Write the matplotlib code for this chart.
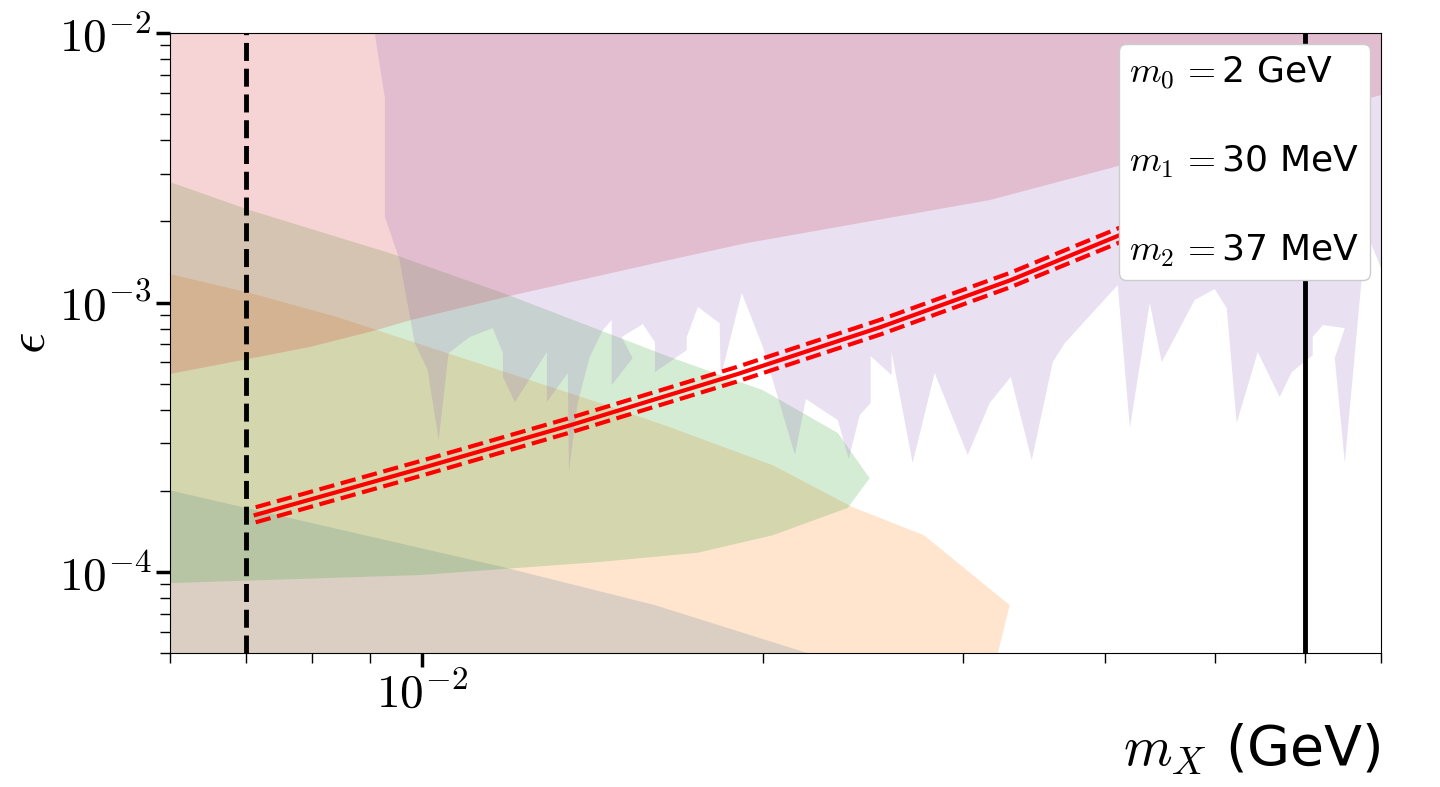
import numpy as np
import matplotlib
matplotlib.use('Agg')
import matplotlib.pyplot as plt
from matplotlib.lines import Line2D
from matplotlib.ticker import FuncFormatter, NullFormatter

plt.rcParams['mathtext.fontset'] = 'cm'

# excluded regions (polygons in m_X [GeV], epsilon)
blue_x = [0.0055, 0.006, 0.01179, 0.01605, 0.02189, 0.0235, 0.0235, 0.0055]
blue_y = [2.1e-4, 2.01e-4, 1.044e-4, 7.54e-5, 5.0e-5, 4.3e-5, 3.0e-5, 3.0e-5]

orange_x = [0.0055, 0.006, 0.00706, 0.00842, 0.01435, 0.01654, 0.02039, 0.02398,
            0.0277, 0.03296, 0.03218, 0.0320, 0.0055]
orange_y = [1.33e-3, 1.276e-3, 1.085e-3, 8.84e-4, 4.24e-4, 3.45e-4, 2.49e-4, 1.74e-4,
            1.37e-4, 7.54e-5, 5.0e-5, 3.0e-5, 3.0e-5]

green_x = [0.0055, 0.006, 0.00706, 0.00937, 0.01179, 0.01435, 0.01654, 0.01998,
           0.02326, 0.02481, 0.02373, 0.02039, 0.01751, 0.01435, 0.009959, 0.006, 0.0055]
green_y = [3.0e-3, 2.80e-3, 2.20e-3, 1.526e-3, 1.085e-3, 7.9e-4, 6.28e-4, 4.73e-4,
           3.28e-4, 2.23e-4, 1.73e-4, 1.37e-4, 1.18e-4, 1.09e-4, 9.75e-5, 9.1e-5, 9.0e-5]

red_x = [0.0055, 0.006, 0.00797, 0.00913, 0.00978, 0.01205, 0.01654, 0.0193,
         0.02512, 0.03165, 0.04198, 0.070, 0.080, 0.080, 0.0055]
red_y = [5.2e-4, 5.43e-4, 6.84e-4, 7.91e-4, 8.61e-4, 1.066e-3, 1.44e-3, 1.66e-3,
         2.02e-3, 2.40e-3, 3.29e-3, 5.89e-3, 6.5e-3, 1.2e-2, 1.2e-2]

purple_x = [0.00905, 0.00909, 0.00928, 0.00928, 0.00956, 0.00986, 0.01012, 0.01035,
            0.01056, 0.01102, 0.01155, 0.01179, 0.01179, 0.01208, 0.01289, 0.01289,
            0.01345, 0.01348, 0.01372, 0.01406, 0.01444, 0.0147, 0.0147, 0.01534,
            0.015, 0.01566, 0.01605, 0.01605, 0.01712, 0.01712, 0.01751, 0.0183,
            0.01834, 0.01914, 0.01998, 0.02132, 0.0218, 0.02326, 0.02378, 0.02432,
            0.02486, 0.02486, 0.02594, 0.02594, 0.02707, 0.02831, 0.03027, 0.03165,
            0.03303, 0.03447, 0.03597, 0.03686, 0.04104, 0.04206, 0.04379, 0.04487,
            0.04797, 0.04996, 0.05119, 0.05224, 0.05452, 0.057, 0.05841, 0.06095,
            0.06095, 0.0622, 0.06505, 0.06374, 0.06505, 0.0673, 0.0684, 0.0713,
            0.080, 0.080]
purple_y = [1.2e-2, 1.0e-2, 5.74e-3, 2.08e-3, 1.44e-3, 7.07e-4, 5.62e-4, 3.09e-4,
            6.49e-4, 7.45e-4, 8.04e-4, 6.49e-4, 5.29e-4, 4.27e-4, 6.55e-4, 4.27e-4,
            5.48e-4, 2.35e-4, 4.24e-4, 6.28e-4, 7.91e-4, 8.61e-4, 4.94e-4, 6.22e-4,
            7.45e-4, 8.32e-4, 7.13e-4, 5.52e-4, 6.66e-4, 7.45e-4, 9.62e-4, 8.39e-4,
            5.29e-4, 1.085e-3, 6.84e-4, 2.72e-4, 4.39e-4, 3.66e-4, 2.63e-4, 3.83e-4,
            4.24e-4, 6.33e-4, 5.38e-4, 6.55e-4, 2.54e-4, 5.48e-4, 2.72e-4, 4.24e-4,
            5.29e-4, 2.60e-4, 6.01e-4, 7.07e-4, 1.161e-3, 3.42e-4, 9.96e-4, 6.01e-4,
            1.022e-3, 1.122e-3, 9.54e-4, 3.57e-4, 6.55e-4, 4.46e-4, 5.52e-4, 6.38e-4,
            7.45e-4, 8.25e-4, 8.04e-4, 6.22e-4, 2.54e-4, 1.212e-3, 1.706e-3, 1.113e-3,
            1.0e-3, 1.2e-2]

# prediction band
mx = [0.00714, 0.0100, 0.01353, 0.01898, 0.02537, 0.0330, 0.04188, 0.0600]
eps_c = [1.63e-4, 2.43e-4, 3.51e-4, 5.43e-4, 8.11e-4, 1.21e-3, 1.83e-3, 3.32e-3]
eps_up = [1.74e-4, 2.59e-4, 3.74e-4, 5.78e-4, 8.64e-4, 1.29e-3, 1.95e-3, 3.54e-3]
eps_lo = [1.53e-4, 2.28e-4, 3.30e-4, 5.10e-4, 7.62e-4, 1.14e-3, 1.72e-3, 3.12e-3]

m_low = 0.007
m_high = 0.06

legend_labels = [r'$m_0\,{=}$2 GeV', r'$m_1\,{=}$30 MeV', r'$m_2\,{=}$37 MeV']

fig, ax = plt.subplots(figsize=(14.4, 7.87), dpi=100)
fig.subplots_adjust(left=0.118, right=0.959, top=0.958, bottom=0.170)

ax.fill(blue_x, blue_y, color='C0', alpha=0.2, lw=0)
ax.fill(orange_x, orange_y, color='C1', alpha=0.2, lw=0)
ax.fill(green_x, green_y, color='C2', alpha=0.2, lw=0)
ax.fill(red_x, red_y, color='C3', alpha=0.2, lw=0)
ax.fill(purple_x, purple_y, color='C4', alpha=0.2, lw=0)

ax.plot(mx, eps_c, color='red', lw=3)
ax.plot(mx, eps_up, color='red', ls='--', lw=3)
ax.plot(mx, eps_lo, color='red', ls='--', lw=3)

ax.axvline(m_low, color='black', ls='--', lw=3.5)
ax.axvline(m_high, color='black', lw=3.5)

ax.set_xscale('log')
ax.set_yscale('log')
ax.set_xlim(0.006, 0.07)
ax.set_ylim(5e-5, 1e-2)

fmt = FuncFormatter(lambda v, p: r'$10^{%d}$' % round(np.log10(v)))
ax.xaxis.set_major_formatter(fmt)
ax.yaxis.set_major_formatter(fmt)
ax.xaxis.set_minor_formatter(NullFormatter())
ax.yaxis.set_minor_formatter(NullFormatter())
ax.tick_params(which='major', length=10, width=2.5, labelsize=34)
ax.tick_params(which='minor', length=7, width=1)

ax.set_xlabel(r'$m_X$ (GeV)', fontsize=40, loc='right')
ax.set_ylabel(r'$\epsilon$', fontsize=38)
ax.yaxis.set_label_coords(-0.094, 0.5)

handles = [Line2D([], [], ls='none', label=lab) for lab in legend_labels]
ax.legend(handles=handles, loc='upper right', fontsize=26, handlelength=0,
          handletextpad=0, labelspacing=1.45, borderaxespad=0.3, borderpad=0.3,
          framealpha=1)

plt.savefig('out.png')
